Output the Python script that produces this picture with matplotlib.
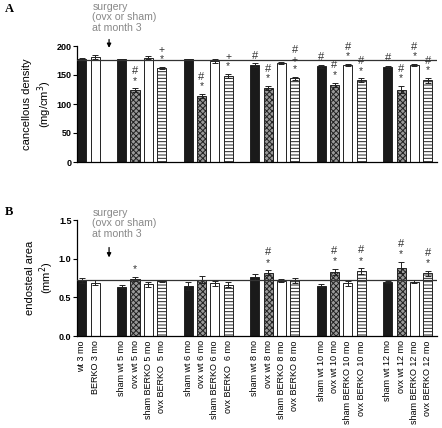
import matplotlib
matplotlib.use("Agg")
import matplotlib.pyplot as plt
import numpy as np

plt.rcParams['font.family'] = ['Liberation Sans', 'DejaVu Sans']
plt.rcParams['hatch.linewidth'] = 0.7

labels = ["wt 3 mo", "BERKO 3 mo",
          "sham wt 5 mo", "ovx wt 5 mo", "sham BERKO 5 mo", "ovx BERKO  5 mo",
          "sham wt 6 mo", "ovx wt 6 mo", "sham BERKO 6 mo", "ovx BERKO  6 mo",
          "sham wt 8 mo", "ovx wt 8 mo", "sham BERKO 8 mo", "ovx BERKO 8 mo",
          "sham wt 10 mo", "ovx wt 10 mo", "sham BERKO 10 mo", "ovx BERKO 10 mo",
          "sham wt 12 mo", "ovx wt 12 mo", "sham BERKO 12 mo", "ovx BERKO 12 mo"]
kinds = ["wt", "berko",
         "wt", "ovxwt", "berko", "ovxberko",
         "wt", "ovxwt", "berko", "ovxberko",
         "wt", "ovxwt", "berko", "ovxberko",
         "wt", "ovxwt", "berko", "ovxberko",
         "wt", "ovxwt", "berko", "ovxberko"]
positions = [0, 1, 3, 4, 5, 6, 8, 9, 10, 11, 13, 14, 15, 16, 18, 19, 20, 21, 23, 24, 25, 26]

density = [177, 181, 177, 124, 180, 162, 177, 114, 174, 148,
           167, 128, 171, 144, 165, 133, 167, 141, 163, 125, 167, 141]
density_err = [1.5, 3, 1, 3, 2, 1.5, 1, 3, 3, 4,
               3, 3, 2, 3, 3, 4, 2, 3, 3, 6, 2, 4]
density_marks = ["", "", "", "*#", "", "*+", "", "*#", "", "*+",
                 "#", "*#", "", "*+#", "#", "*#", "*#", "*#", "#", "*#", "*#", "*#"]
density_ref = 176

endo = [0.72, 0.69, 0.64, 0.735, 0.67, 0.715, 0.65, 0.73, 0.68, 0.665,
        0.765, 0.82, 0.715, 0.72, 0.65, 0.825, 0.68, 0.84, 0.695, 0.885, 0.70, 0.81]
endo_err = [0.03, 0.03, 0.025, 0.03, 0.03, 0.012, 0.05, 0.04, 0.03, 0.03,
            0.04, 0.03, 0.02, 0.03, 0.02, 0.04, 0.03, 0.035, 0.012, 0.07, 0.02, 0.035]
endo_marks = ["", "", "", "*", "", "", "", "", "", "",
              "", "*#", "", "", "", "*#", "", "*#", "", "*#", "", "*#"]
endo_ref = 0.725

surgery_text = "surgery\n(ovx or sham)\nat month 3"

styles = {
    "wt": dict(facecolor="#1a1a1a", hatch=None),
    "berko": dict(facecolor="white", hatch=None),
    "ovxwt": dict(facecolor="#9a9a9a", hatch="xxxxxx"),
    "ovxberko": dict(facecolor="white", hatch="-----"),
}

W, H = 442, 428
fig = plt.figure(figsize=(W / 100, H / 100), dpi=100)

def make_ax(top_px, bottom_px):
    left, right = 77, 437
    return fig.add_axes([left / W, 1 - bottom_px / H, (right - left) / W, (bottom_px - top_px) / H])

axA = make_ax(46, 162)
axB = make_ax(220, 336)

def draw(ax, vals, errs, marks, ref, ylim, yticks, yticklabels, ylabel, arrow_y, text_y, mark_gap):
    for p, v, e, k, m in zip(positions, vals, errs, kinds, marks):
        st = styles[k]
        ax.bar(p, v, width=0.68, color=st["facecolor"], edgecolor="#222222",
               hatch=st["hatch"], linewidth=0.7, zorder=2)
        ax.errorbar(p, v, yerr=e, fmt="none", ecolor="#222222", elinewidth=0.7,
                    capsize=2.5, capthick=0.7, zorder=3)
        for i, ch in enumerate(m):
            ax.annotate(ch, xy=(p, v + e), xytext=(0, 5.5 + i * mark_gap),
                        textcoords="offset points", ha="center", va="center",
                        fontsize=8 if ch == "#" else 7.5, color="#333333",
                        annotation_clip=False)
    ax.axhline(ref, color="#333333", linewidth=0.9, zorder=4)
    ax.set_xlim(-0.36, 26.7)
    ax.set_ylim(*ylim)
    ax.set_yticks(yticks)
    ax.set_yticklabels(yticklabels, fontsize=6.5, fontweight="bold")
    ax.tick_params(axis="y", length=3, width=0.8, pad=1)
    for s in ["top", "right"]:
        ax.spines[s].set_visible(False)
    ax.spines["left"].set_linewidth(0.9)
    ax.spines["bottom"].set_linewidth(0.9)
    ax.set_ylabel(ylabel, fontsize=8, labelpad=2)
    ax.annotate("", xy=(2.05, arrow_y[1]), xytext=(2.05, arrow_y[0]),
                arrowprops=dict(arrowstyle="-|>", color="black", lw=0.9, mutation_scale=6),
                annotation_clip=False)
    ax.text(0.8, text_y, surgery_text, fontsize=7.6, color="#888888", va="top",
            ha="left", linespacing=1.05, clip_on=False)

draw(axA, density, density_err, density_marks, density_ref, (0, 200),
     [0, 50, 100, 150, 200], ["0", "50", "100", "150", "200"],
     "cancellous density\n(mg/cm$^3$)", (216, 192), 276, 6.8)
axA.set_xticks([])

draw(axB, endo, endo_err, endo_marks, endo_ref, (0, 1.5),
     [0, 0.5, 1.0, 1.5], ["0.0", "0.5", "1.0", "1.5"],
     "endosteal area\n(mm$^2$)", (1.18, 0.98), 1.655, 7.5)
axB.set_xticks(positions)
axB.set_xticklabels(labels, rotation=90, fontsize=6.5, va="top", ha="center")
axB.tick_params(axis="x", length=0, pad=3)

fig.text(5 / W, 1 - 12 / H, "A", fontsize=9, fontweight="bold", family="Liberation Serif")
fig.text(5 / W, 1 - 215 / H, "B", fontsize=9, fontweight="bold", family="Liberation Serif")

fig.savefig("out.png", dpi=100)
